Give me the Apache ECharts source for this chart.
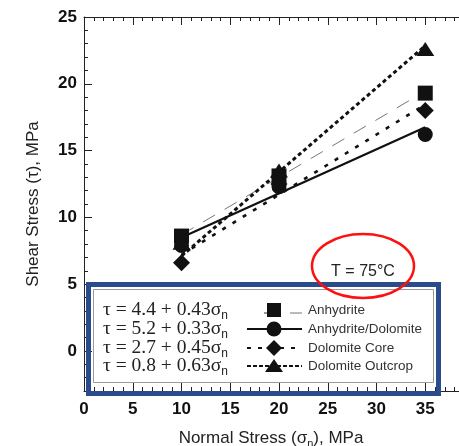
<!DOCTYPE html>
<html>
<head>
<meta charset="utf-8">
<script src="https://cdn.jsdelivr.net/npm/echarts@6/dist/echarts.min.js"></script>
<style>html,body{margin:0;padding:0;background:#fff}#c{width:459px;height:446px}</style>
</head>
<body>
<div id="c"></div>
<script>
// ---- data ----
const stressLevels = [10, 20, 35];
const anhydrite = [8.6, 13.1, 19.3];
const anhydriteDolomite = [7.9, 12.3, 16.2];
const dolomiteCore = [6.6, 12.5, 18.0];
const dolomiteOutcrop = [8.1, 13.5, 22.6];
const fitStress = [10, 35];
const anhydriteFit = [8.7, 19.45];
const anhydriteDolomiteFit = [8.5, 16.75];
const dolomiteCoreFit = [7.2, 18.45];
const dolomiteOutcropFit = [7.1, 22.85];
const seriesNames = ['Anhydrite', 'Anhydrite/Dolomite', 'Dolomite Core', 'Dolomite Outcrop'];
const equations = [['4.4', '0.43'], ['5.2', '0.33'], ['2.7', '0.45'], ['0.8', '0.63']];
const xTicks = [0, 40, 5];
const yRange = [-3, 25];
const tempLabel = 'T = 75°C';

const pair = (xs, ys) => xs.map((x, i) => [x, ys[i]]);
const F = 'Liberation Sans, Arial, sans-serif';
const SERIF = 'Liberation Serif, Times New Roman, serif';

const chart = echarts.init(document.getElementById('c'));

const lineStyles = [
  {color: '#777', width: 1, type: [14, 11]},
  {color: '#111', width: 2.2, type: 'solid'},
  {color: '#111', width: 2.6, type: [4, 8]},
  {color: '#111', width: 3, type: [4, 3]}
];
const fits = [anhydriteFit, anhydriteDolomiteFit, dolomiteCoreFit, dolomiteOutcropFit];
const pts = [anhydrite, anhydriteDolomite, dolomiteCore, dolomiteOutcrop];
const symbols = [['rect', [15, 15]], ['circle', 15], ['diamond', [17, 17]], ['triangle', [18, 14]]];

const series = [];
fits.forEach((f, i) => {
  series.push({
    type: 'line', name: seriesNames[i] + ' fit', xAxisIndex: 0, yAxisIndex: 0,
    data: pair(fitStress, f), showSymbol: false, symbol: 'none',
    lineStyle: lineStyles[i], z: 2, silent: true
  });
});
pts.forEach((p, i) => {
  series.push({
    type: 'scatter', name: seriesNames[i], xAxisIndex: 0, yAxisIndex: 0,
    data: pair(stressLevels, p), symbol: symbols[i][0], symbolSize: symbols[i][1],
    itemStyle: {color: '#111', opacity: 1}, z: 3
  });
});

// legend graphics
const rowY = [310, 329, 348, 366];
const graphics = [];
const G = (o) => { o.z = 100; graphics.push(o); };
G({type: 'rect', shape: {x: 93.5, y: 289.5, width: 340, height: 93}, style: {fill: '#fff', stroke: '#9a9a9a', lineWidth: 1}});
G({type: 'rect', shape: {x: 88.5, y: 284.5, width: 350, height: 109}, style: {fill: 'none', stroke: '#2b4c8c', lineWidth: 5}});
equations.forEach((e, i) => {
  G({type: 'text', x: 103, y: rowY[i], style: {
    text: '{m|τ = ' + e[0] + ' + ' + e[1] + 'σ}{s|n}', verticalAlign: 'middle', align: 'left',
    rich: {m: {fontFamily: SERIF, fontSize: 19.5, fill: '#222', verticalAlign: 'middle'},
           s: {fontFamily: F, fontSize: 12, fill: '#222', padding: [11, 0, 0, 0], verticalAlign: 'middle'}}
  }, z2: 5});
  G({type: 'text', x: 308, y: rowY[i], style: {text: seriesNames[i], font: '13.5px ' + F, fill: '#333', verticalAlign: 'middle'}});
});
// legend samples
G({type: 'line', shape: {x1: 264, y1: rowY[0] + 3, x2: 270, y2: rowY[0] + 3}, style: {stroke: '#333', lineWidth: 1}});
G({type: 'line', shape: {x1: 290, y1: rowY[0] + 3, x2: 302, y2: rowY[0] + 3}, style: {stroke: '#777', lineWidth: 1}});
G({type: 'rect', shape: {x: 267, y: rowY[0] - 7, width: 14, height: 14}, style: {fill: '#111'}});
G({type: 'line', shape: {x1: 247, y1: rowY[1], x2: 302, y2: rowY[1]}, style: {stroke: '#111', lineWidth: 2}});
G({type: 'circle', shape: {cx: 274, cy: rowY[1], r: 7.5}, style: {fill: '#111'}});
G({type: 'line', shape: {x1: 247, y1: rowY[2], x2: 302, y2: rowY[2]}, style: {stroke: '#111', lineWidth: 2, lineDash: [4, 7]}});
G({type: 'polygon', shape: {points: [[274, rowY[2] - 8], [282, rowY[2]], [274, rowY[2] + 8], [266, rowY[2]]]}, style: {fill: '#111'}});
G({type: 'line', shape: {x1: 247, y1: rowY[3], x2: 302, y2: rowY[3]}, style: {stroke: '#111', lineWidth: 2, lineDash: [4, 2]}});
G({type: 'polygon', shape: {points: [[274, rowY[3] - 7], [283, rowY[3] + 6], [265, rowY[3] + 6]]}, style: {fill: '#111'}});
// temperature annotation
G({type: 'ellipse', shape: {cx: 363, cy: 266, rx: 51, ry: 32}, style: {fill: 'none', stroke: '#ff1010', lineWidth: 2.5}});
G({type: 'text', x: 363, y: 272, style: {text: tempLabel, font: '16px ' + F, fill: '#222', align: 'center', verticalAlign: 'middle'}});

const tickLabel = {fontFamily: F, fontWeight: 'bold', fontSize: 17, color: '#111'};
const axLine = {show: true, onZero: false, lineStyle: {color: '#222', width: 1}};

chart.setOption({
  animation: false,
  backgroundColor: '#fff',
  grid: [
    {left: 84, right: -15, top: 17, bottom: 55, containLabel: false, outerBoundsMode: 'none'},
    {left: 84, right: -15, top: 17, bottom: 95.07, containLabel: false, outerBoundsMode: 'none'}
  ],
  xAxis: [
    {type: 'value', gridIndex: 0, position: 'bottom', min: xTicks[0], max: xTicks[1], interval: xTicks[2],
     axisLine: axLine, axisTick: {inside: true, length: 8, lineStyle: {color: '#222'}},
     minorTick: {show: true, splitNumber: 5, length: 4, lineStyle: {color: '#222'}},
     splitLine: {show: false}, axisLabel: Object.assign({margin: 10, showMaxLabel: false}, tickLabel),
     name: '{a|Normal Stress (σ}{s|n}{a|), MPa}', nameLocation: 'middle', nameGap: 37,
     nameTextStyle: {padding: [0, 16, 0, 0], rich: {a: {fontFamily: F, fontSize: 17, color: '#222'}, s: {fontFamily: F, fontSize: 11, color: '#222', padding: [10, 0, 0, 0]}}}},
    {type: 'value', gridIndex: 0, position: 'top', min: xTicks[0], max: xTicks[1], interval: xTicks[2],
     axisLine: axLine, axisTick: {inside: true, length: 8, lineStyle: {color: '#222'}},
     minorTick: {show: true, splitNumber: 5, length: 4, lineStyle: {color: '#222'}},
     splitLine: {show: false}, axisLabel: {show: false}},
    {type: 'value', gridIndex: 1, min: xTicks[0], max: xTicks[1], show: false,
     axisLine: {show: false, onZero: false}}
  ],
  yAxis: [
    {type: 'value', gridIndex: 0, min: yRange[0], max: yRange[1], interval: 1,
     axisLine: axLine, axisTick: {inside: true, length: 4, lineStyle: {color: '#222'}},
     splitLine: {show: false}, axisLabel: {show: false},
     name: 'Shear Stress (τ), MPa', nameLocation: 'middle', nameGap: 42,
     nameTextStyle: {fontFamily: F, fontSize: 17, color: '#222'}},
    {type: 'value', gridIndex: 1, min: 0, max: yRange[1], interval: 5,
     axisLine: {show: false, onZero: false}, axisTick: {inside: true, length: 8, lineStyle: {color: '#222'}},
     splitLine: {show: false}, axisLabel: Object.assign({margin: 7}, tickLabel)}
  ],
  series: series,
  graphic: graphics
});
</script>
</body>
</html>
